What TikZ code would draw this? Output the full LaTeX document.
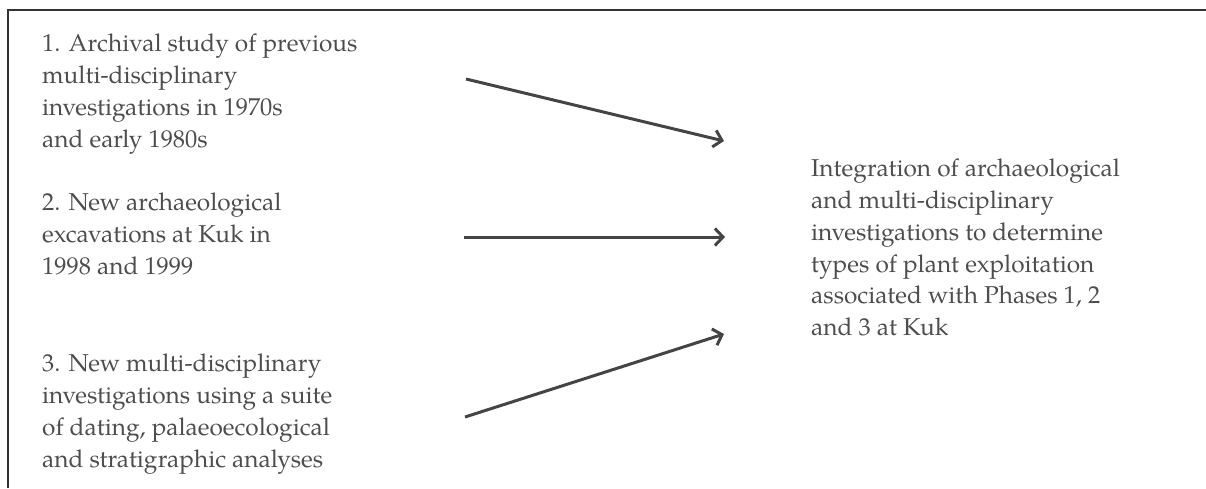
\documentclass[tikz,border=0pt]{standalone}
\usepackage{fontspec}
\setmainfont{TeX Gyre Pagella}
\usetikzlibrary{arrows.meta}
\definecolor{txt}{HTML}{4D4D4D}
\definecolor{arr}{HTML}{444444}
\definecolor{frm}{HTML}{333333}
\tikzset{
  lbl/.style={anchor=north west, inner sep=0pt, align=left, text=txt,
    font=\fontsize{24.4}{31.7}\selectfont},
  conn/.style={draw=arr, line width=3pt,
    -{Straight Barb[length=8pt,width=17pt,line width=3pt]}},
  frame/.style={draw=frm, line width=1.5pt}
}
\begin{document}
\begin{tikzpicture}[x=1pt,y=-1pt]
\useasboundingbox (0,0) rectangle (1206,488);
\coordinate (f0) at (8,488);
\coordinate (f1) at (8,10);
\coordinate (f2) at (1206,10);
\draw[frame] (f0) -- (f1) -- (f2);
\node[lbl] (s1) at (42,34) {1. Archival study of previous\\multi-disciplinary\\investigations in 1970s\\and early 1980s};
\node[lbl] (s2) at (42,193) {2. New archaeological\\excavations at Kuk in\\1998 and 1999};
\node[lbl] (s3) at (42,354) {3. New multi-disciplinary\\investigations using a suite\\of dating, palaeoecological\\and stratigraphic analyses};
\node[lbl] (r) at (811,159) {Integration of archaeological\\and multi-disciplinary\\investigations to determine\\types of plant exploitation\\associated with Phases 1, 2\\and 3 at Kuk};
\coordinate (a1s) at (466,79);
\coordinate (a1e) at (724,141);
\coordinate (a2s) at (464,237);
\coordinate (a2e) at (725,237);
\coordinate (a3s) at (465,417);
\coordinate (a3e) at (724,334);
\draw[conn] (a1s) -- (a1e);
\draw[conn] (a2s) -- (a2e);
\draw[conn] (a3s) -- (a3e);
\end{tikzpicture}
\end{document}
